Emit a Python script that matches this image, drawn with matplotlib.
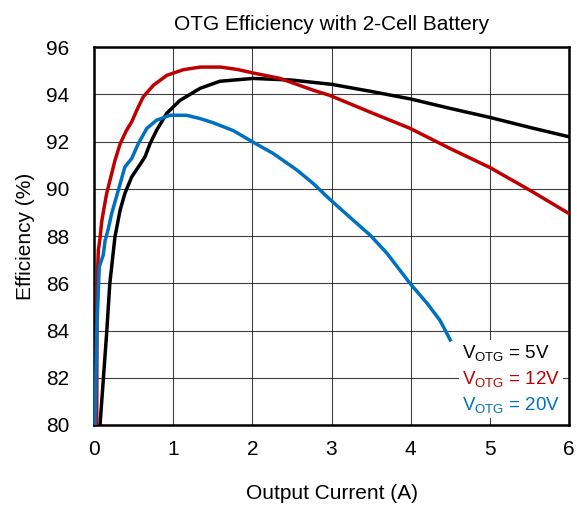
import matplotlib
matplotlib.use("Agg")
import matplotlib.pyplot as plt
from matplotlib.lines import Line2D

plt.rcParams['font.family'] = ['Liberation Sans', 'DejaVu Sans']
plt.rcParams['mathtext.fontset'] = 'custom'
plt.rcParams['mathtext.rm'] = 'Liberation Sans'
plt.rcParams['mathtext.it'] = 'Liberation Sans'

# 5V curve
x_5v = [0.076, 0.117, 0.16, 0.20, 0.265, 0.33, 0.39, 0.476, 0.56, 0.644, 0.707, 0.79,
        0.92, 1.086, 1.34, 1.59, 2.01, 2.5, 3.0, 3.5, 4.0, 4.5, 5.0, 5.5, 6.0]
y_5v = [80.0, 81.9, 83.9, 86.0, 87.97, 89.1, 89.8, 90.5, 90.92, 91.35, 91.9, 92.47,
        93.2, 93.74, 94.25, 94.55, 94.67, 94.6, 94.42, 94.12, 93.8, 93.4, 93.02, 92.6, 92.2]

# 12V curve
x_12v = [0.034, 0.04, 0.055, 0.076, 0.097, 0.117, 0.16, 0.224, 0.265, 0.33, 0.41,
         0.476, 0.54, 0.62, 0.75, 0.92, 1.13, 1.34, 1.6, 1.81, 2.01, 2.35, 2.77,
         2.98, 3.49, 3.99, 4.50, 5.00, 5.51, 6.00]
y_12v = [80.0, 86.0, 87.4, 87.9, 88.6, 89.0, 89.8, 90.65, 91.2, 91.9, 92.47,
         92.83, 93.32, 93.88, 94.38, 94.8, 95.04, 95.15, 95.15, 95.05, 94.9, 94.67, 94.17,
         93.95, 93.24, 92.56, 91.7, 90.9, 89.93, 88.95]

# 20V curve
x_20v = [0.013, 0.034, 0.067, 0.117, 0.14, 0.18, 0.224, 0.307, 0.39, 0.476, 0.56,
         0.666, 0.79, 0.96, 1.17, 1.34, 1.50, 1.76, 2.01, 2.26, 2.56, 2.77, 2.98,
         3.23, 3.49, 3.70, 3.99, 4.21, 4.37, 4.50]
y_20v = [80.0, 83.9, 86.7, 87.2, 87.8, 88.3, 88.96, 89.94, 90.92, 91.28, 91.91,
         92.55, 92.9, 93.11, 93.11, 92.97, 92.8, 92.46, 91.97, 91.5, 90.8, 90.22, 89.55,
         88.8, 88.03, 87.27, 86.0, 85.14, 84.43, 83.6]

labels = ["V$_{\\mathrm{OTG}}$ = 5V", "V$_{\\mathrm{OTG}}$ = 12V", "V$_{\\mathrm{OTG}}$ = 20V"]
colors = ["black", "#C00000", "#0070C0"]

fig = plt.figure(figsize=(5.77, 5.08), dpi=100)
ax = fig.add_axes([94 / 577, 83 / 508, 475 / 577, 378 / 508])

ax.plot(x_5v, y_5v, color=colors[0], lw=2.5, zorder=3)
ax.plot(x_12v, y_12v, color=colors[1], lw=2.5, zorder=3)
ax.plot(x_20v, y_20v, color=colors[2], lw=2.5, zorder=3)

ax.set_xlim(0, 6)
ax.set_ylim(80, 96)
ax.set_xticks(range(0, 7))
ax.set_yticks(range(80, 97, 2))
ax.grid(True, color="black", lw=0.8, alpha=0.75)
ax.set_axisbelow(True)
for s in ax.spines.values():
    s.set_linewidth(1.8)
ax.tick_params(axis="x", direction="in", length=0, labelsize=15, pad=11)
ax.tick_params(axis="y", direction="in", length=0, labelsize=15, pad=18)

ax.set_title("OTG Efficiency with 2-Cell Battery", fontsize=15, pad=12)
ax.set_xlabel("Output Current (A)", fontsize=15, labelpad=18)
ax.set_ylabel("Efficiency (%)", fontsize=15, labelpad=8)

handles = [Line2D([], [], color=c, lw=0) for c in colors]
leg = ax.legend(handles, labels, loc="lower right", bbox_to_anchor=(0.987, 0.018),
                borderaxespad=0, handlelength=0, handletextpad=0, fontsize=13.5,
                labelcolor="linecolor", frameon=True, framealpha=1, fancybox=False,
                edgecolor="none", borderpad=0.15, labelspacing=0.33)
leg.set_zorder(5)

plt.savefig("out.png", dpi=100)
